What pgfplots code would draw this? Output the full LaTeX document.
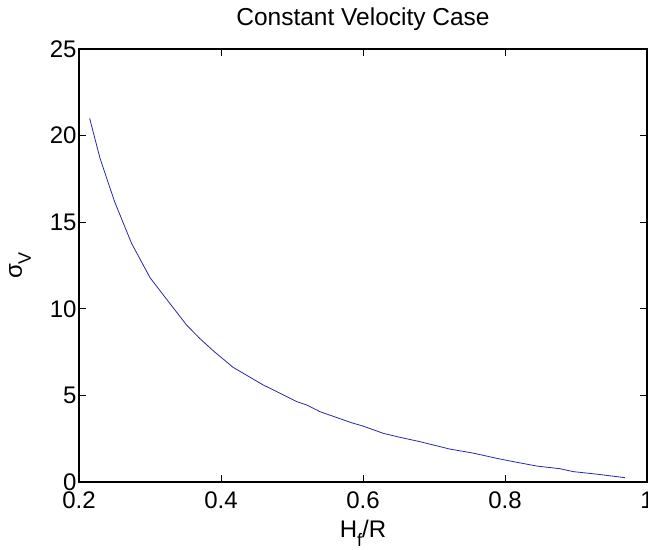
\documentclass[border=0pt]{standalone}
\usepackage{fontspec}
\setmainfont{Liberation Sans}
\usepackage{pgfplots}
\pgfplotsset{compat=1.18}
\begin{document}
\begin{tikzpicture}[x=1pt,y=1pt]
\path[use as bounding box] (-79pt,-67pt) rectangle (569pt,482pt);
\begin{axis}[
  at={(0pt,0pt)}, anchor=south west,
  scale only axis, width=568pt, height=433pt,
  xmin=0.2, xmax=1, ymin=0, ymax=25,
  xtick={0.2,0.4,0.6,0.8,1}, ytick={0,5,10,15,20,25},
  xticklabels={0.2,0.4,0.6,0.8,1},
  tick align=inside, major tick length=7pt,
  tick style={black, line width=0.6pt},
  axis line style={black, line width=1.2pt},
  /pgf/number format/assume math mode=true,
  ticklabel style={font=\fontsize{24}{26}\selectfont},
  xticklabel style={anchor=base, yshift=-26pt},
  yticklabel style={xshift=1pt},
  title={Constant Velocity Case},
  title style={font=\fontsize{24.5}{26}\selectfont, at={(axis description cs:0.5,1)}, anchor=base, yshift=17pt},
  xlabel={H\raisebox{-9pt}{\fontsize{18}{20}\selectfont f}/R},
  ylabel={σ\raisebox{-9pt}{\fontsize{18}{20}\selectfont V}},
  label style={font=\fontsize{24}{26}\selectfont},
  xlabel style={at={(axis description cs:0.5,0)}, anchor=base, yshift=-55pt},
  ylabel style={at={([xshift=-57pt]axis description cs:0,0.5)}, anchor=base, rotate=0},
  clip=false,
]
\addplot[color={rgb,255:red,40;green,40;blue,170}, line width=0.8pt] coordinates {
(0.215,21.0) (0.2296,18.69) (0.25,16.2) (0.274,13.78) (0.30,11.8) (0.3225,10.6)
(0.3516,9.06) (0.370,8.29) (0.389,7.58) (0.417,6.62) (0.4596,5.6) (0.476,5.27)
(0.5066,4.64) (0.5207,4.45) (0.5394,4.06) (0.584,3.42) (0.600,3.23) (0.6286,2.81)
(0.652,2.58) (0.680,2.33) (0.7225,1.9) (0.755,1.67) (0.788,1.37) (0.815,1.15)
(0.845,0.92) (0.877,0.77) (0.896,0.6) (0.93,0.45) (0.969,0.25)
};
\end{axis}
\end{tikzpicture}
\end{document}
